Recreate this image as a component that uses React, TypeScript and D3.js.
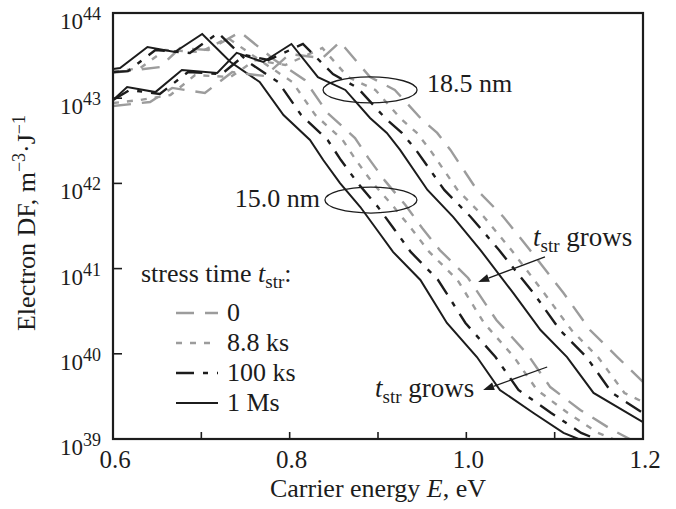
import React from 'react';
import * as d3 from 'd3';

// carrier energy (eV) and electron DF (m^-3 J^-1)
// 15.0 nm group
const e15_0 = [0.600, 0.625, 0.653, 0.676, 0.708, 0.744, 0.783, 0.817, 0.843, 0.874, 0.889, 0.908, 0.931, 0.950, 0.970, 1.002, 1.034, 1.069, 1.095, 1.129, 1.165, 1.185];
const df15_0 = [1.98e43, 2.14e43, 2.32e43, 3.88e43, 3.68e43, 5.98e43, 2.81e43, 1.64e43, 6.70e42, 3.41e42, 1.99e42, 1.07e42, 5.57e41, 2.99e41, 1.65e41, 7.76e40, 2.49e40, 9.95e39, 4.07e39, 2.19e39, 1.28e39, 1.0e39];
const e15_8 = [0.600, 0.631, 0.659, 0.699, 0.730, 0.769, 0.803, 0.829, 0.860, 0.875, 0.894, 0.918, 0.939, 0.958, 0.990, 1.020, 1.054, 1.080, 1.115, 1.149, 1.166];
const df15_8 = [2.03e43, 2.26e43, 3.68e43, 3.48e43, 5.09e43, 2.66e43, 1.55e43, 6.35e42, 3.23e42, 1.88e42, 1.01e42, 5.28e41, 2.84e41, 1.57e41, 7.35e40, 2.30e40, 9.16e39, 3.76e39, 2.02e39, 1.18e39, 1.0e39];
const e15_100 = [0.600, 0.617, 0.648, 0.687, 0.719, 0.753, 0.787, 0.813, 0.843, 0.858, 0.877, 0.900, 0.919, 0.937, 0.968, 0.999, 1.033, 1.059, 1.096, 1.130, 1.147];
const df15_100 = [2.03e43, 2.08e43, 3.68e43, 3.40e43, 5.82e43, 2.66e43, 1.55e43, 6.35e42, 3.23e42, 1.88e42, 1.01e42, 5.28e41, 2.84e41, 1.57e41, 7.35e40, 2.30e40, 9.16e39, 3.76e39, 2.02e39, 1.18e39, 1.0e39];
const e15_1M = [0.600, 0.608, 0.639, 0.670, 0.701, 0.733, 0.766, 0.793, 0.823, 0.838, 0.857, 0.880, 0.899, 0.917, 0.948, 0.978, 1.012, 1.038, 1.076, 1.110, 1.127];
const df15_1M = [2.20e43, 2.26e43, 3.99e43, 3.48e43, 5.68e43, 2.66e43, 1.55e43, 6.35e42, 3.23e42, 1.88e42, 1.01e42, 5.28e41, 2.84e41, 1.57e41, 7.35e40, 2.30e40, 9.16e39, 3.76e39, 2.02e39, 1.18e39, 1.0e39];

// 18.5 nm group
const e18_0 = [0.600, 0.642, 0.667, 0.704, 0.735, 0.772, 0.800, 0.837, 0.857, 0.891, 0.919, 0.948, 0.967, 0.982, 1.012, 1.042, 1.072, 1.110, 1.140, 1.171, 1.200];
const df18_0 = [8.09e42, 9.02e42, 1.32e43, 1.15e43, 2.03e43, 1.82e43, 3.30e43, 2.96e43, 4.57e43, 1.77e43, 1.25e43, 5.86e42, 3.91e42, 2.47e42, 8.38e41, 4.04e41, 1.65e41, 5.18e40, 1.90e40, 9.16e39, 4.67e39];
const e18_8 = [0.600, 0.631, 0.665, 0.693, 0.733, 0.761, 0.795, 0.837, 0.866, 0.897, 0.925, 0.944, 0.959, 0.990, 1.020, 1.051, 1.088, 1.119, 1.149, 1.179, 1.200];
const df18_8 = [8.79e42, 9.53e42, 1.09e43, 1.87e43, 1.77e43, 2.81e43, 2.45e43, 3.88e43, 1.77e43, 1.25e43, 5.86e42, 3.91e42, 2.47e42, 8.38e41, 4.04e41, 1.65e41, 5.18e40, 1.90e40, 9.16e39, 3.47e39, 2.72e39];
const e18_100 = [0.600, 0.619, 0.653, 0.685, 0.723, 0.749, 0.776, 0.815, 0.849, 0.877, 0.908, 0.927, 0.943, 0.975, 1.005, 1.037, 1.076, 1.106, 1.136, 1.165, 1.200];
const df18_100 = [9.53e42, 1.25e43, 1.12e43, 2.03e43, 1.92e43, 3.21e43, 2.81e43, 4.33e43, 1.92e43, 1.32e43, 5.86e42, 3.91e42, 2.47e42, 8.38e41, 4.04e41, 1.65e41, 5.18e40, 1.90e40, 9.16e39, 3.47e39, 2.02e39];
const e18_1M = [0.600, 0.616, 0.648, 0.678, 0.718, 0.740, 0.770, 0.802, 0.832, 0.863, 0.891, 0.910, 0.925, 0.956, 0.985, 1.016, 1.053, 1.084, 1.114, 1.144, 1.200];
const df18_1M = [9.53e42, 1.35e43, 1.18e43, 2.14e43, 1.98e43, 3.40e43, 2.66e43, 4.33e43, 1.77e43, 1.25e43, 5.86e42, 3.91e42, 2.47e42, 8.38e41, 4.04e41, 1.65e41, 5.18e40, 1.90e40, 9.16e39, 3.47e39, 1.58e39];

const xTicks = [0.6, 0.7, 0.8, 0.9, 1.0, 1.1, 1.2];
const xLabels = ['0.6', '0.8', '1.0', '1.2'];
const yExps = [39, 40, 41, 42, 43, 44];
const legendNames = ['0', '8.8 ks', '100 ks', '1 Ms'];

const INK = '#1c1c1c';
const GRAY = '#9c9c9c';
const FONT = '"Liberation Serif", "Times New Roman", serif';

const styles = [
  { stroke: GRAY, dash: '18,11', width: 2.4 },
  { stroke: GRAY, dash: '6,8', width: 2.4 },
  { stroke: INK, dash: '18,9,5,9', width: 2.4 },
  { stroke: INK, dash: null, width: 2 },
];

const series = [
  { e: e15_0, df: df15_0, s: 0 }, { e: e15_8, df: df15_8, s: 1 },
  { e: e15_100, df: df15_100, s: 2 }, { e: e15_1M, df: df15_1M, s: 3 },
  { e: e18_0, df: df18_0, s: 0 }, { e: e18_8, df: df18_8, s: 1 },
  { e: e18_100, df: df18_100, s: 2 }, { e: e18_1M, df: df18_1M, s: 3 },
];

const x = d3.scaleLinear().domain([0.6, 1.2]).range([113, 643]);
const y = d3.scaleLog().domain([1e39, 1e44]).range([439, 13]);

const Arrow = ({ e0, v0, e1, v1 }) => {
  const x0 = x(e0), y0 = y(v0), x1 = x(e1), y1 = y(v1);
  const a = Math.atan2(y1 - y0, x1 - x0);
  const L = 11, Wd = 4;
  const bx = x1 - L * Math.cos(a), by = y1 - L * Math.sin(a);
  const p = [
    [x1, y1],
    [bx + Wd * Math.sin(a), by - Wd * Math.cos(a)],
    [bx - Wd * Math.sin(a), by + Wd * Math.cos(a)],
  ];
  return (
    <g>
      <line x1={x0} y1={y0} x2={bx} y2={by} stroke={INK} strokeWidth={1.3} />
      <polygon points={p.map(d => d.join(',')).join(' ')} fill={INK} />
    </g>
  );
};

const Grows = ({ tx, ty }) => (
  <text x={tx} y={ty} fontSize={27} fill={INK}>
    <tspan fontStyle="italic">t</tspan>
    <tspan fontSize={19} dy={6}>str</tspan>
    <tspan dy={-6}> grows</tspan>
  </text>
);

export default function App() {
  const line = d3.line<number>().x(d => d[0]).y(d => d[1]);
  return (
    <svg width={676} height={509} style={{ position: 'absolute', left: 0, top: 0, background: '#fff' }} fontFamily={FONT}>
      <defs>
        <clipPath id="plot">
          <rect x={113} y={13} width={530} height={426} />
        </clipPath>
      </defs>

      <g clipPath="url(#plot)">
        {series.map((sr, i) => {
          const st = styles[sr.s];
          const pts = sr.e.map((e, j) => [x(e), y(sr.df[j])]);
          return (
            <path key={i} d={line(pts as any) || ''} fill="none" stroke={st.stroke}
              strokeWidth={st.width} strokeDasharray={st.dash || undefined} strokeLinejoin="miter" />
          );
        })}
      </g>

      {/* frame and ticks */}
      <rect x={113} y={13} width={530} height={426} fill="none" stroke={INK} strokeWidth={2.2} />
      {xTicks.slice(1, -1).map(t => (
        <line key={t} x1={x(t)} x2={x(t)} y1={439} y2={432} stroke={INK} strokeWidth={1.6} />
      ))}
      {xLabels.map(l => (
        <text key={l} x={x(+l) + 2} y={468} fontSize={25} textAnchor="middle" fill={INK}>{l}</text>
      ))}
      {yExps.slice(1, -1).map(n => (
        <line key={n} x1={113} x2={122} y1={y(Math.pow(10, n))} y2={y(Math.pow(10, n))} stroke={INK} strokeWidth={1.6} />
      ))}
      {yExps.map(n => (
        <text key={n} x={101} y={y(Math.pow(10, n)) + 16} fontSize={23} textAnchor="end" fill={INK}>
          10<tspan fontSize={18} dy={-9}>{n}</tspan>
        </text>
      ))}

      {/* axis titles */}
      <text x={378} y={497} fontSize={26} textAnchor="middle" fill={INK}>
        Carrier energy <tspan fontStyle="italic">E</tspan>, eV
      </text>
      <text transform="translate(35,223) rotate(-90)" fontSize={26} textAnchor="middle" fill={INK}>
        Electron DF, m<tspan fontSize={18} dy={-10}>−3</tspan><tspan dy={10}>·J</tspan><tspan fontSize={18} dy={-10}>−1</tspan>
      </text>

      {/* thickness annotations */}
      <ellipse cx={x(0.891)} cy={y(1.25e43)} rx={47} ry={13} fill="none" stroke={INK} strokeWidth={1.3} />
      <text x={x(0.9556)} y={y(1.18e43)} fontSize={26} fill={INK}>18.5 nm</text>
      <ellipse cx={x(0.892)} cy={y(6.38e41)} rx={46} ry={13} fill="none" stroke={INK} strokeWidth={1.3} />
      <text x={x(0.8344)} y={y(5.28e41)} fontSize={26} textAnchor="end" fill={INK}>15.0 nm</text>

      {/* stress time arrows */}
      <Arrow e0={1.089} v0={1.37e41} e1={1.0134} v1={6.97e40} />
      <Grows tx={533} ty={246} />
      <Arrow e0={1.0915} v0={7.0e39} e1={1.019} v1={3.76e39} />
      <Grows tx={375} ty={397} />

      {/* legend */}
      <text x={141} y={282} fontSize={26} fill={INK}>
        stress time <tspan fontStyle="italic">t</tspan><tspan fontSize={19} dy={6}>str</tspan><tspan dy={-6}>:</tspan>
      </text>
      {legendNames.map((nm, i) => {
        const st = styles[i];
        const ly = 313 + i * 30;
        return (
          <g key={nm}>
            <line x1={176} x2={218} y1={ly} y2={ly} stroke={st.stroke} strokeWidth={st.width}
              strokeDasharray={st.dash || undefined} />
            <text x={227} y={ly + 8} fontSize={26} fill={INK}>{nm}</text>
          </g>
        );
      })}
    </svg>
  );
}
